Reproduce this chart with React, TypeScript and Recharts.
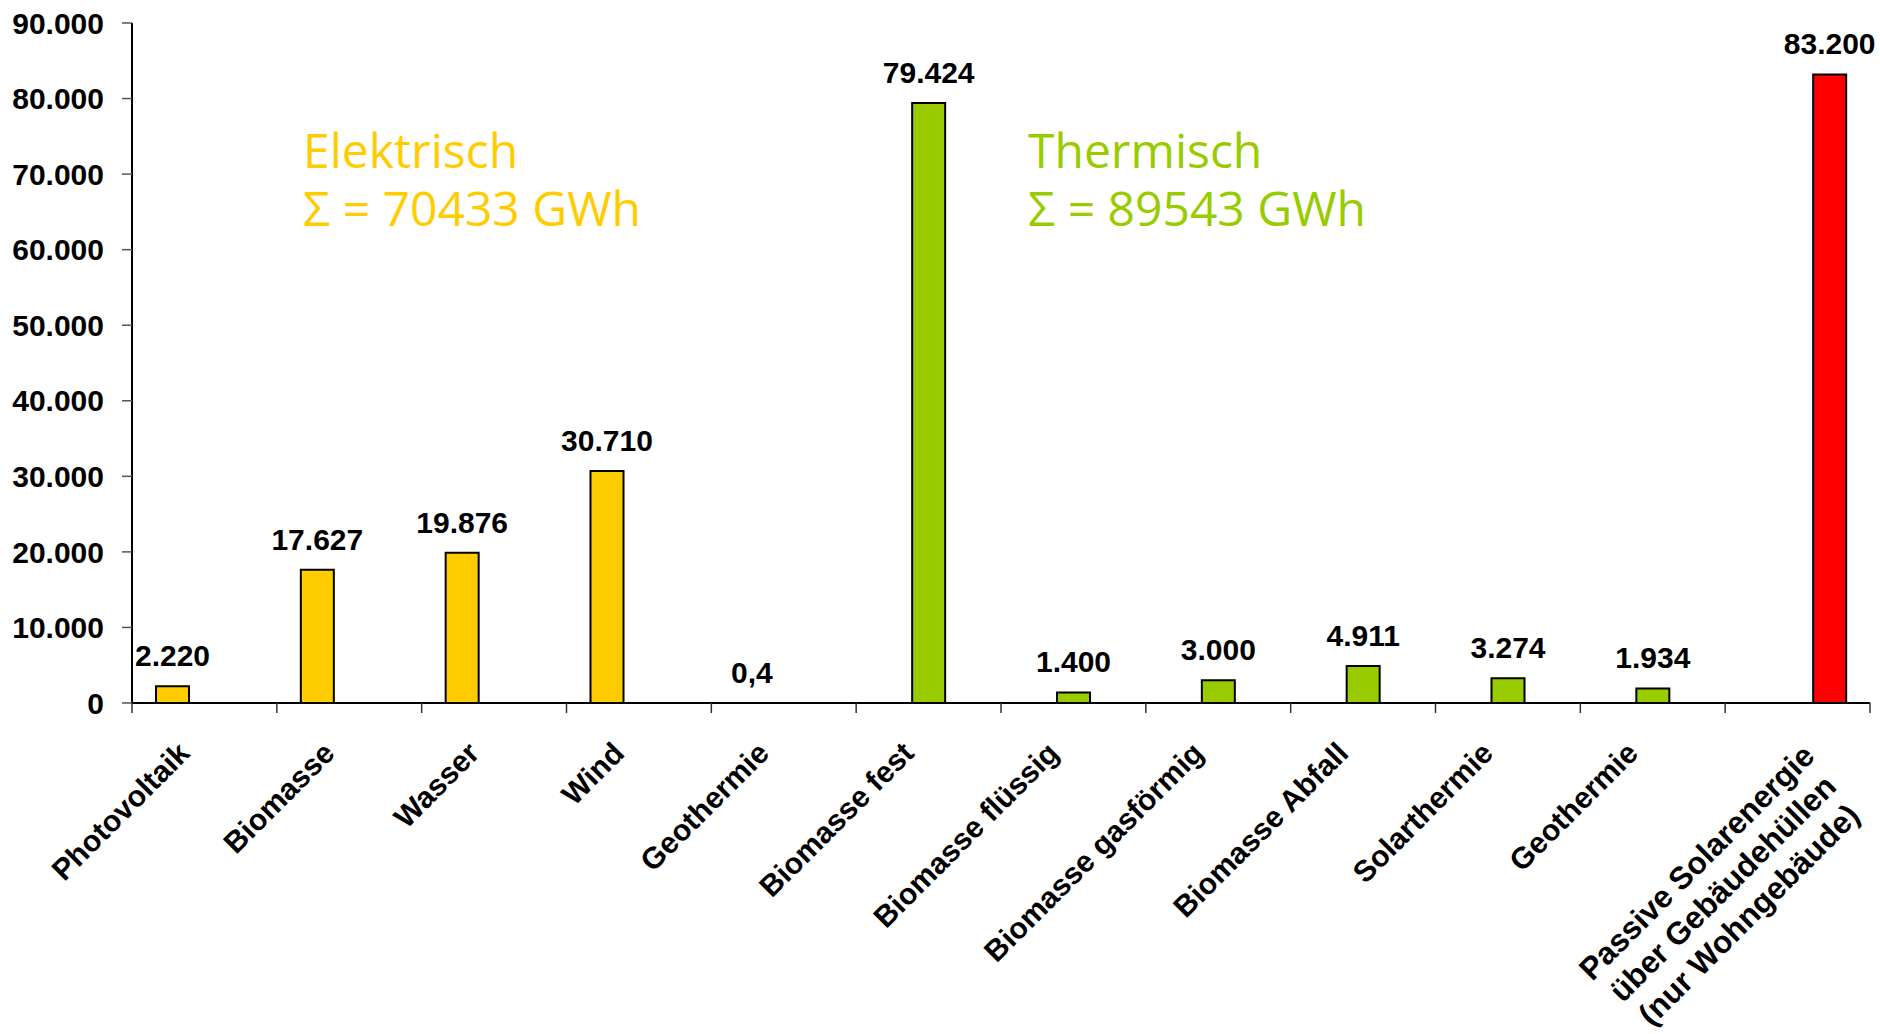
import React from 'react';
import { BarChart, Bar, XAxis, YAxis, LabelList } from 'recharts';

const categories = [
  'Photovoltaik',
  'Biomasse',
  'Wasser',
  'Wind',
  'Geothermie',
  'Biomasse fest',
  'Biomasse flüssig',
  'Biomasse gasförmig',
  'Biomasse Abfall',
  'Solarthermie',
  'Geothermie',
  'Passive Solarenergie\nüber Gebäudehüllen\n(nur Wohngebäude)',
];

const elektrisch = [2220, 17627, 19876, 30710, 0.4, null, null, null, null, null, null, null];
const thermisch = [null, null, null, null, null, 79424, 1400, 3000, 4911, 3274, 1934, null];
const passiv = [null, null, null, null, null, null, null, null, null, null, null, 83200];

const yTicks = [0, 10000, 20000, 30000, 40000, 50000, 60000, 70000, 80000, 90000];

const data = categories.map((name, i) => ({
  name,
  elektrisch: elektrisch[i],
  thermisch: thermisch[i],
  passiv: passiv[i],
}));

const FONT = '"Liberation Sans", Arial, sans-serif';

const fmt = (v: any) => {
  if (v === null || v === undefined) return '';
  if (v < 1 && v > 0) return String(v).replace('.', ',');
  return Math.round(v)
    .toString()
    .replace(/\B(?=(\d{3})+(?!\d))/g, '.');
};

const XTick = (props: any) => {
  const { x, y, payload, index } = props;
  const half = payload && payload.offset ? payload.offset : 72;
  const lines = String(payload.value).split('\n');
  const isLast = index === categories.length - 1;
  return (
    <g>
      <line x1={x - half} y1={y} x2={x - half} y2={y + 10} stroke="#333" strokeWidth={1.5} />
      {isLast && <line x1={x + half} y1={y} x2={x + half} y2={y + 10} stroke="#333" strokeWidth={1.5} />}
      {lines.length === 1 ? (
        <g transform={`translate(${x - 13},${y + 52}) rotate(-45)`}>
          <text x={0} y={0} textAnchor="end" fontFamily={FONT} fontWeight="bold" fontSize={30} fill="#000">
            {lines[0]}
          </text>
        </g>
      ) : (
        <g transform={`translate(${x},${y + 58}) rotate(-45)`}>
          {lines.map((ln, i) => (
            <text
              key={i}
              x={-143}
              y={11 + i * 37}
              textAnchor="middle"
              fontFamily={FONT}
              fontWeight="bold"
              fontSize={31.5}
              fill="#000"
            >
              {ln}
            </text>
          ))}
        </g>
      )}
    </g>
  );
};

const labelStyle = { fontFamily: FONT, fontWeight: 'bold', fontSize: 30, fill: '#000' };

export default function App() {
  return (
    <div style={{ position: 'absolute', left: 0, top: 0, width: 1880, height: 1034, background: '#fff' }}>
      <BarChart
        width={1880}
        height={1034}
        data={data}
        margin={{ top: 23, right: 10, left: 0, bottom: 0 }}
        barSize={33}
        barGap={-1}
      >
        <XAxis
          dataKey="name"
          height={331}
          interval={0}
          tickLine={false}
          tickSize={0}
          tickMargin={0}
          axisLine={{ stroke: '#000', strokeWidth: 2 }}
          tick={<XTick />}
        />
        <YAxis
          type="number"
          domain={[0, 90000]}
          ticks={yTicks}
          width={132}
          tickSize={10}
          tickMargin={18}
          tickFormatter={fmt}
          axisLine={{ stroke: '#000', strokeWidth: 2 }}
          tickLine={{ stroke: '#555', strokeWidth: 1.5 }}
          tick={{ fontFamily: FONT, fontWeight: 'bold', fontSize: 30, fill: '#000' }}
        />
        <Bar dataKey="elektrisch" fill="#FFCC00" stroke="#000" strokeWidth={2} isAnimationActive={false}>
          <LabelList dataKey="elektrisch" position="top" offset={20} formatter={fmt} style={labelStyle} />
        </Bar>
        <Bar dataKey="thermisch" fill="#99CC00" stroke="#000" strokeWidth={2} isAnimationActive={false}>
          <LabelList dataKey="thermisch" position="top" offset={20} formatter={fmt} style={labelStyle} />
        </Bar>
        <Bar dataKey="passiv" fill="#FF0000" stroke="#000" strokeWidth={2} isAnimationActive={false}>
          <LabelList dataKey="passiv" position="top" offset={20} formatter={fmt} style={labelStyle} />
        </Bar>
      </BarChart>
      <svg
        width={1880}
        height={1034}
        style={{ position: 'absolute', left: 0, top: 0, pointerEvents: 'none' }}
      >
        <g fontFamily='"Open Sans", "Noto Sans", sans-serif' fontSize={48}>
          <text x={303} y={168} fill="#FFCC00">Elektrisch</text>
          <text x={303} y={226} fill="#FFCC00">Σ = 70433 GWh</text>
          <text x={1028} y={168} fill="#99CC00">Thermisch</text>
          <text x={1028} y={226} fill="#99CC00">Σ = 89543 GWh</text>
        </g>
      </svg>
    </div>
  );
}
